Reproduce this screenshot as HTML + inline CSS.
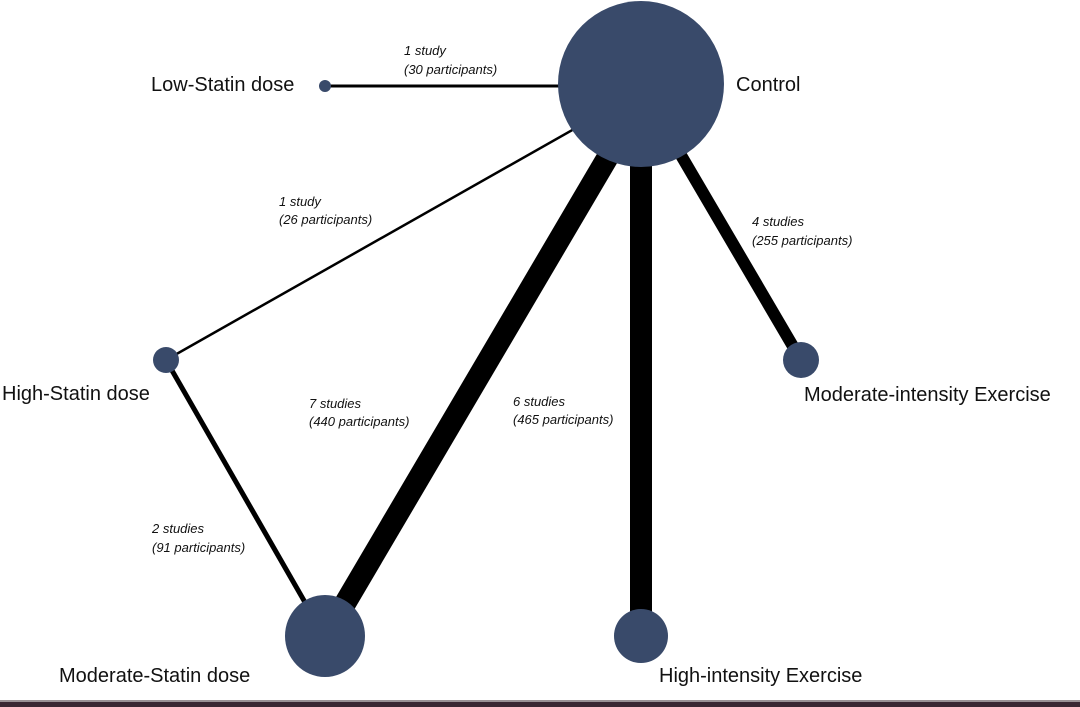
<!DOCTYPE html>
<html><head><style>
html,body{margin:0;padding:0;background:#fff;}
svg{display:block;}
text{font-family:"Liberation Sans",sans-serif;}
.n{font-size:20px;fill:#111;}
.e{font-size:13px;font-style:italic;fill:#111;}
</style></head><body>
<svg width="1080" height="707" viewBox="0 0 1080 707">
<rect width="1080" height="707" fill="#fff"/>
<g stroke="#000" stroke-linecap="butt">
<line x1="325" y1="86" x2="600" y2="86" stroke-width="3"/>
<line x1="590" y1="120" x2="166" y2="360" stroke-width="2.5"/>
<line x1="166" y1="360" x2="318" y2="625" stroke-width="5"/>
<line x1="612" y1="150" x2="340" y2="612" stroke-width="22"/>
<line x1="641" y1="150" x2="641" y2="625" stroke-width="22"/>
<line x1="675" y1="145" x2="801" y2="360" stroke-width="12"/>
</g>
<g fill="#394a6a">
<circle cx="641" cy="84" r="83"/>
<circle cx="325" cy="86" r="6"/>
<circle cx="166" cy="360" r="13"/>
<circle cx="801" cy="360" r="18"/>
<ellipse cx="325" cy="636" rx="40" ry="41"/>
<circle cx="641" cy="636" r="27"/>
</g>
<text class="n" x="151" y="91">Low-Statin dose</text>
<text class="n" x="736" y="91">Control</text>
<text class="n" x="2" y="400">High-Statin dose</text>
<text class="n" x="804" y="401">Moderate-intensity Exercise</text>
<text class="n" x="59" y="682">Moderate-Statin dose</text>
<text class="n" x="659" y="682">High-intensity Exercise</text>
<text class="e" x="404" y="55">1 study</text>
<text class="e" x="404" y="74">(30 participants)</text>
<text class="e" x="279" y="206">1 study</text>
<text class="e" x="279" y="224">(26 participants)</text>
<text class="e" x="752" y="226">4 studies</text>
<text class="e" x="752" y="245">(255 participants)</text>
<text class="e" x="309" y="408">7 studies</text>
<text class="e" x="309" y="426">(440 participants)</text>
<text class="e" x="513" y="406">6 studies</text>
<text class="e" x="513" y="424">(465 participants)</text>
<text class="e" x="152" y="533">2 studies</text>
<text class="e" x="152" y="552">(91 participants)</text>
<rect x="0" y="700" width="1080" height="2" fill="#9a9095"/>
<rect x="0" y="702" width="1080" height="5" fill="#3a2633"/>
</svg>
</body></html>
